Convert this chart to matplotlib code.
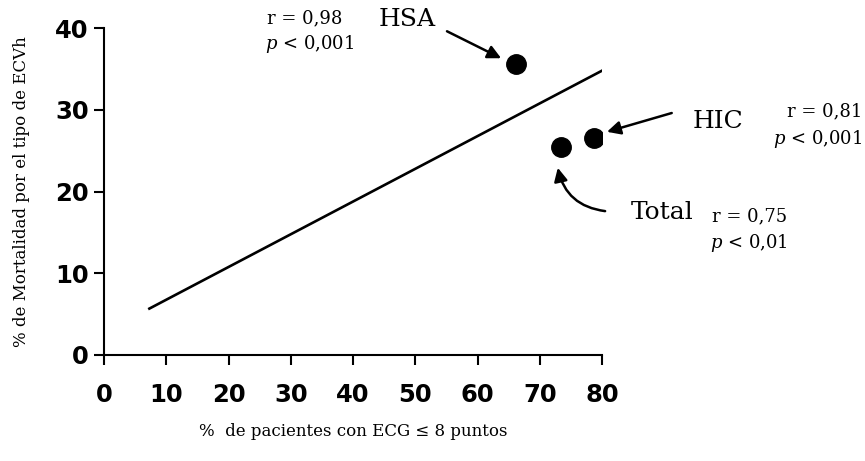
import matplotlib.pyplot as plt

plt.rcParams['mathtext.fontset'] = 'dejavuserif'

# data
groups = ['HSA', 'Total', 'HIC']
pct_ecg = [66.2, 73.4, 78.7]
mortality = [35.6, 25.4, 26.5]
fit_x = [7.1, 80.3]
fit_y = [5.6, 34.9]
x_ticks = [0, 10, 20, 30, 40, 50, 60, 70, 80]
y_ticks = [0, 10, 20, 30, 40]

serif = ['DejaVu Serif']
tick_font = dict(family='DejaVu Sans', weight='heavy', size=17.5)

fig = plt.figure(figsize=(8.65, 4.61), dpi=100)
ax = fig.add_axes([104 / 865, 1 - 355 / 461, 498 / 865, 327 / 461])

ax.plot(fit_x, fit_y, color='black', lw=1.9, solid_capstyle='butt')
ax.plot(pct_ecg, mortality, 'o', color='black', ms=14)

ax.set_xlim(0, 80)
ax.set_ylim(0, 40)
ax.set_xticks(x_ticks)
ax.set_yticks(y_ticks)
ax.set_xticklabels([str(t) for t in x_ticks], fontdict=tick_font)
ax.set_yticklabels([str(t) for t in y_ticks], fontdict=tick_font)
ax.tick_params(direction='out', length=7, width=1.5)
ax.tick_params(axis='x', pad=13)
ax.tick_params(axis='y', pad=4)
for s in ['top', 'right']:
    ax.spines[s].set_visible(False)
for s in ['left', 'bottom']:
    ax.spines[s].set_linewidth(1.5)

ax.set_xlabel('%  de pacientes con ECG ≤ 8 puntos', family=serif, size=12, labelpad=12)
ax.set_ylabel('% de Mortalidad por el tipo de ECVh', family=serif, size=12, labelpad=18)

arrow = dict(arrowstyle='-|>', color='black', lw=1.8, mutation_scale=20, shrinkA=0, shrinkB=0)
stat = dict(family=serif, size=13, va='center')

# HSA
ax.text(48.7, 41.0, 'HSA', family=serif, size=18, ha='center', va='center', clip_on=False)
ax.annotate('', xy=(63.8, 36.3), xytext=(55.1, 39.6), annotation_clip=False, arrowprops=arrow)
ax.text(32.3, 41.2, 'r = 0,98', ha='center', clip_on=False, **stat)
ax.text(33.0, 38.1, '$p$ < 0,001', ha='center', clip_on=False, **stat)

# HIC
ax.text(98.6, 28.6, 'HIC', family=serif, size=18, ha='center', va='center', clip_on=False)
ax.annotate('', xy=(80.8, 27.3), xytext=(91.2, 29.6), annotation_clip=False, arrowprops=arrow)
ax.text(121.8, 29.8, 'r = 0,81', ha='right', clip_on=False, **stat)
ax.text(121.8, 26.4, '$p$ < 0,001', ha='right', clip_on=False, **stat)

# Total
ax.text(89.6, 17.4, 'Total', family=serif, size=18, ha='center', va='center', clip_on=False)
ax.annotate('', xy=(72.9, 22.9), xytext=(80.5, 17.6), annotation_clip=False,
            arrowprops=dict(arrow, connectionstyle='arc3,rad=-0.35'))
ax.text(109.8, 17.0, 'r = 0,75', ha='right', clip_on=False, **stat)
ax.text(109.8, 13.7, '$p$ < 0,01', ha='right', clip_on=False, **stat)

fig.savefig('out.png', dpi=100)
